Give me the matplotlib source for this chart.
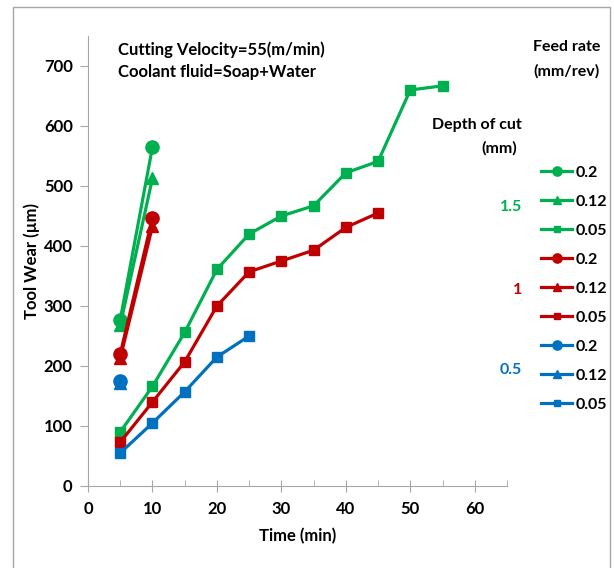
import matplotlib.pyplot as plt
from matplotlib.patches import Rectangle

plt.rcParams['font.family'] = ['Lato', 'DejaVu Sans']
plt.rcParams['font.weight'] = 'bold'

GREEN = '#00B050'
RED = '#C00000'
BLUE = '#0070C0'

# time (min) and tool wear (um) per depth of cut / feed rate
t_short = [5, 10]
t_long_15 = [5, 10, 15, 20, 25, 30, 35, 40, 45, 50, 55]
t_long_10 = [5, 10, 15, 20, 25, 30, 35, 40, 45]
t_long_05 = [5, 10, 15, 20, 25]

d15_f020 = [277, 565]
d15_f012 = [268, 513]
d15_f005 = [90, 166, 256, 361, 420, 450, 467, 522, 541, 660, 667]

d10_f020 = [220, 447]
d10_f012 = [213, 433]
d10_f005 = [73, 140, 207, 300, 357, 375, 393, 431, 455]

d05_f020 = [175]
d05_f012 = [172]
d05_f005 = [55, 105, 157, 215, 250]

fig = plt.figure(figsize=(6.14, 5.68), dpi=100)
ax = fig.add_axes([88 / 614, 1 - 486 / 568, (507 - 88) / 614, (486 - 36) / 568])

lw = 2.3
series = [
    (t_short, d15_f020, GREEN, 'o', 9.5, '0.2'),
    (t_short, d15_f012, GREEN, '^', 9, '0.12'),
    (t_long_15, d15_f005, GREEN, 's', 6.5, '0.05'),
    (t_short, d10_f020, RED, 'o', 9.5, '0.2'),
    (t_short, d10_f012, RED, '^', 9, '0.12'),
    (t_long_10, d10_f005, RED, 's', 6.5, '0.05'),
    ([5], d05_f020, BLUE, 'o', 9.5, '0.2'),
    ([5], d05_f012, BLUE, '^', 9, '0.12'),
    (t_long_05, d05_f005, BLUE, 's', 6.5, '0.05'),
]
handles = []
for x, y, c, m, ms, lab in series:
    h, = ax.plot(x, y, color=c, marker=m, ms=ms, lw=lw, label=lab)
    handles.append(h)

ax.set_xlim(0, 65)
ax.set_ylim(0, 750)
ax.set_xticks(range(0, 61, 10))
ax.set_xticks(range(5, 66, 10), minor=True)
ax.set_yticks(range(0, 701, 100))
for s in ['top', 'right']:
    ax.spines[s].set_visible(False)
for s in ['left', 'bottom']:
    ax.spines[s].set_color('#A6A6A6')
ax.tick_params(axis='x', which='major', direction='inout', length=9, color='#A6A6A6', labelsize=12, pad=6)
ax.tick_params(axis='x', which='minor', direction='in', length=4, color='#A6A6A6')
ax.tick_params(axis='y', direction='out', length=6, color='#A6A6A6', labelsize=12, pad=5)

ax.set_xlabel('Time (min)', fontsize=12, fontweight='bold', labelpad=8)
ax.set_ylabel('Tool Wear (µm)', fontsize=12, fontweight='bold', labelpad=3)

fig.text(118 / 614, 1 - 50 / 568, 'Cutting Velocity=55(m/min)', fontsize=12, va='center')
fig.text(118 / 614, 1 - 72 / 568, 'Coolant fluid=Soap+Water', fontsize=12, va='center')

fig.text(600 / 614, 1 - 47 / 568, 'Feed rate', fontsize=11.5, ha='right', va='center')
fig.text(600 / 614, 1 - 71 / 568, '(mm/rev)', fontsize=11.5, ha='right', va='center')
fig.text(522 / 614, 1 - 125 / 568, 'Depth of cut', fontsize=11.5, ha='right', va='center')
fig.text(517 / 614, 1 - 148 / 568, '(mm)', fontsize=11.5, ha='right', va='center')
fig.text(522 / 614, 1 - 207 / 568, '1.5', fontsize=11.5, ha='right', va='center', color=GREEN)
fig.text(522 / 614, 1 - 290 / 568, '1', fontsize=11.5, ha='right', va='center', color=RED)
fig.text(522 / 614, 1 - 370 / 568, '0.5', fontsize=11.5, ha='right', va='center', color=BLUE)

fig.legend(handles=handles, loc='upper left', bbox_to_anchor=(527 / 614, 1 - 151 / 568),
           frameon=False, fontsize=11.5, handlelength=1.9, handletextpad=0.25,
           labelspacing=0.93, markerscale=0.7)

fig.patches.append(Rectangle((13 / 614, -0.01), (610 - 13) / 614, 1 - 7 / 568 + 0.01,
                             transform=fig.transFigure, fill=False, edgecolor='#A6A6A6', lw=1))

fig.savefig('out.png', dpi=100)
